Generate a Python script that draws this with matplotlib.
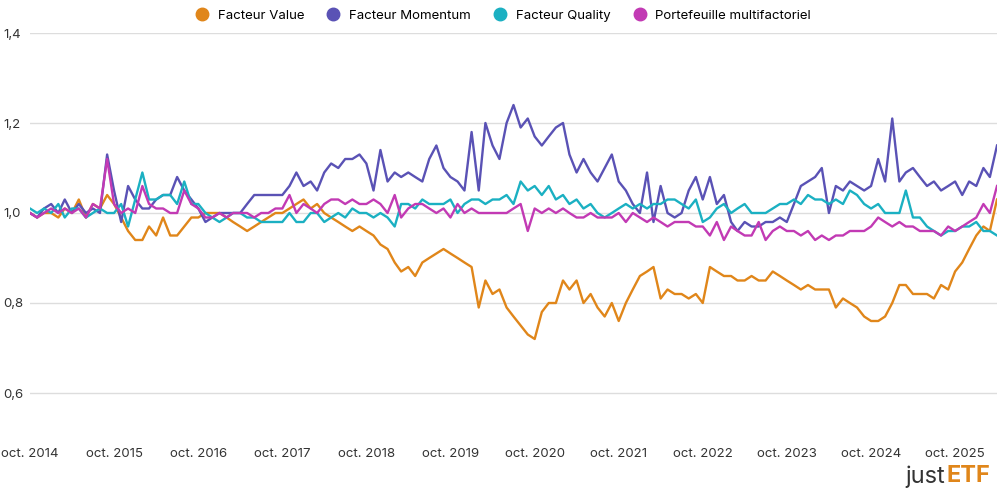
import matplotlib
matplotlib.use("Agg")
import matplotlib.pyplot as plt
import pandas as pd
from matplotlib.lines import Line2D

value = [1.0,0.99,1.0,1.0,0.99,1.01,1.0,1.03,0.99,1.02,1.01,1.04,
         1.02,0.99,0.96,0.94,0.94,0.97,0.95,0.99,0.95,0.95,0.97,0.99,
         0.99,1.0,1.0,1.0,0.99,0.98,0.97,0.96,0.97,0.98,0.99,1.0,
         1.0,1.01,1.02,1.03,1.01,1.02,1.0,0.99,0.98,0.97,0.96,0.97,
         0.96,0.95,0.93,0.92,0.89,0.87,0.88,0.86,0.89,0.9,0.91,0.92,
         0.91,0.9,0.89,0.88,0.79,0.85,0.82,0.83,0.79,0.77,0.75,0.73,
         0.72,0.78,0.8,0.8,0.85,0.83,0.85,0.8,0.82,0.79,0.77,0.8,
         0.76,0.8,0.83,0.86,0.87,0.88,0.81,0.83,0.82,0.82,0.81,0.82,
         0.8,0.88,0.87,0.86,0.86,0.85,0.85,0.86,0.85,0.85,0.87,0.86,
         0.85,0.84,0.83,0.84,0.83,0.83,0.83,0.79,0.81,0.8,0.79,0.77,
         0.76,0.76,0.77,0.8,0.84,0.84,0.82,0.82,0.82,0.81,0.84,0.83,
         0.87,0.89,0.92,0.95,0.97,0.96,1.03]
momentum = [1.0,0.99,1.01,1.02,1.0,1.03,1.0,1.02,1.0,1.01,1.0,1.13,
            1.05,0.98,1.06,1.03,1.01,1.01,1.03,1.04,1.04,1.08,1.05,1.03,
            1.01,0.98,0.99,1.0,1.0,1.0,1.0,1.02,1.04,1.04,1.04,1.04,
            1.04,1.06,1.09,1.06,1.07,1.05,1.09,1.11,1.1,1.12,1.12,1.13,
            1.11,1.05,1.14,1.07,1.09,1.08,1.09,1.08,1.07,1.12,1.15,1.1,
            1.08,1.07,1.05,1.18,1.05,1.2,1.15,1.12,1.2,1.24,1.19,1.21,
            1.17,1.15,1.17,1.19,1.2,1.13,1.09,1.12,1.09,1.07,1.1,1.13,
            1.07,1.05,1.02,1.0,1.09,0.98,1.06,1.0,0.99,1.0,1.05,1.08,
            1.03,1.08,1.02,1.04,0.98,0.96,0.98,0.97,0.97,0.98,0.98,0.99,
            0.98,1.02,1.06,1.07,1.08,1.1,1.0,1.06,1.05,1.07,1.06,1.05,
            1.06,1.12,1.07,1.21,1.07,1.09,1.1,1.08,1.06,1.07,1.05,1.06,
            1.07,1.04,1.07,1.06,1.1,1.08,1.15]
quality = [1.01,1.0,1.01,1.0,1.02,0.99,1.01,1.01,0.99,1.0,1.01,1.0,
           1.0,1.02,0.97,1.03,1.09,1.03,1.03,1.04,1.04,1.02,1.07,1.02,
           1.02,1.0,0.99,0.98,0.99,1.0,1.0,0.99,0.99,0.98,0.98,0.98,
           0.98,1.0,0.98,0.98,1.0,1.0,0.98,0.99,1.0,0.99,1.01,1.0,
           1.0,0.99,1.0,0.99,0.97,1.02,1.02,1.01,1.03,1.02,1.02,1.02,
           1.03,1.0,1.02,1.03,1.03,1.02,1.03,1.03,1.04,1.02,1.07,1.05,
           1.06,1.04,1.06,1.03,1.04,1.02,1.03,1.01,1.02,1.0,0.99,1.0,
           1.01,1.02,1.01,1.02,1.01,1.02,1.02,1.03,1.03,1.02,1.01,1.03,
           0.98,0.99,1.01,1.02,1.0,1.01,1.02,1.0,1.0,1.0,1.01,1.02,
           1.02,1.03,1.02,1.04,1.03,1.03,1.02,1.03,1.02,1.05,1.04,1.02,
           1.01,1.02,1.0,1.0,1.0,1.05,0.99,0.99,0.97,0.96,0.95,0.96,
           0.96,0.97,0.97,0.98,0.96,0.96,0.95]
portfolio = [1.0,0.99,1.0,1.01,1.0,1.01,1.0,1.01,0.99,1.02,1.01,1.12,
             1.02,1.0,1.01,1.0,1.06,1.02,1.01,1.01,1.0,1.0,1.05,1.02,
             1.01,0.99,0.99,1.0,0.99,1.0,1.0,1.0,0.99,1.0,1.0,1.01,
             1.01,1.04,1.0,1.02,1.01,1.0,1.02,1.03,1.03,1.02,1.03,1.02,
             1.02,1.03,1.02,1.0,1.04,0.99,1.01,1.02,1.02,1.01,1.0,1.01,
             0.99,1.02,1.0,1.01,1.0,1.0,1.0,1.0,1.0,1.01,1.02,0.96,
             1.01,1.0,1.01,1.0,1.01,1.0,0.99,0.99,1.0,0.99,0.99,0.99,
             1.0,0.98,1.0,0.99,0.98,0.99,0.98,0.97,0.98,0.98,0.98,0.97,
             0.97,0.95,0.98,0.94,0.97,0.96,0.95,0.95,0.98,0.94,0.96,0.97,
             0.96,0.96,0.95,0.96,0.94,0.95,0.94,0.95,0.95,0.96,0.96,0.96,
             0.97,0.99,0.98,0.97,0.98,0.97,0.97,0.96,0.96,0.96,0.95,0.97,
             0.96,0.94,0.96,0.95,0.96,0.97,1.04,0.97,0.96,0.96,0.96,0.95,
             0.96,0.97,0.98,0.99,1.02,1.0,1.06]
portfolio = portfolio[:132] + portfolio[144:]
names = ["Facteur Value", "Facteur Momentum", "Facteur Quality", "Portefeuille multifactoriel"]
colors = ["#E0861A", "#5A52B5", "#1BB0C2", "#C23AB4"]
series = [value, momentum, quality, portfolio]
tick_labels = [f"oct. {y}" for y in range(2014, 2026)]

plt.rcParams['font.family'] = ['Inter', 'DejaVu Sans']
fig = plt.figure(figsize=(10, 5), dpi=100)
ax = fig.add_axes([0.03, 0.142, 0.967, 0.792])
for s, c, n in zip(series, colors, names):
    d = pd.date_range("2014-10-01", periods=len(s), freq="MS")
    ax.plot(d, s, color=c, lw=1.7, label=n)
ax.set_ylim(0.52, 1.4)
ax.set_xlim(pd.Timestamp("2014-10-01"), pd.Timestamp("2026-04-01"))
ax.set_yticks([0.6, 0.8, 1.0, 1.2, 1.4])
ax.set_yticklabels([f"{v:.1f}".replace(".", ",") for v in [0.6, 0.8, 1.0, 1.2, 1.4]], ha="left")
ax.grid(axis="y", color="#dddddd", lw=1)
ax.set_axisbelow(True)
for sp in ax.spines.values():
    sp.set_visible(False)
ax.set_xticks([pd.Timestamp(f"{y}-10-01") for y in range(2014, 2026)])
ax.set_xticklabels(tick_labels, fontsize=9.5, color="#333333")
ax.tick_params(axis="x", length=0, pad=14)
ax.tick_params(axis="y", length=0, labelsize=9.5, labelcolor="#333333", pad=19)
handles = [Line2D([], [], marker="o", ls="", color=c, markersize=9) for c in colors]
fig.legend(handles, names, loc="upper center", bbox_to_anchor=(0.5, 1.005), ncol=4,
           frameon=False, fontsize=9.5, handletextpad=0.2, columnspacing=1.2)
fig.text(0.905, 0.025, "just", fontsize=17, color="#333333", ha="left", va="bottom")
fig.text(0.947, 0.025, "ETF", fontsize=17, color="#E0861A", ha="left", va="bottom", weight="bold")
fig.savefig("out.png")
